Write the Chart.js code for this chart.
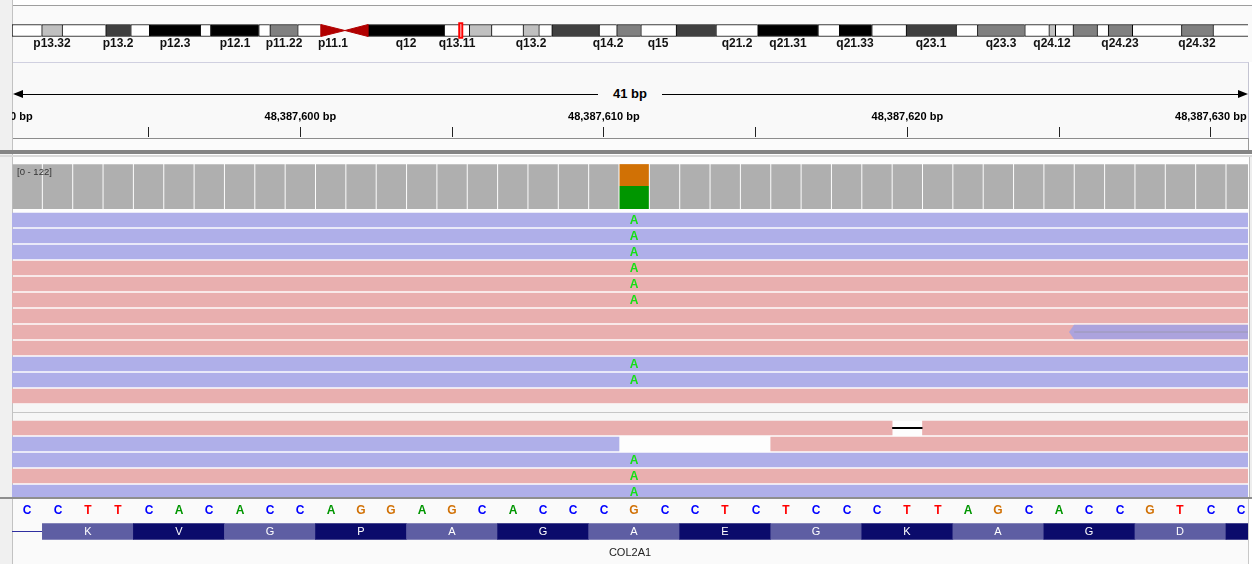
<!DOCTYPE html>
<html>
<head>
<meta charset="utf-8">
<title>IGV view chr12 COL2A1</title>
<script src="https://cdn.jsdelivr.net/npm/chart.js@4.4.1/dist/chart.umd.min.js"></script>
<style>
  html, body { margin:0; padding:0; }
  body { width:1252px; height:564px; position:relative; overflow:hidden; background:#ffffff;
         font-family:"Liberation Sans", Arial, Helvetica, sans-serif; }
  .a { position:absolute; }
  .wrap { position:absolute; overflow:hidden; }
  canvas { display:block; position:absolute; left:0; top:0; }
</style>
</head>
<body>
<!-- frame -->
<div class="a" style="left:0;top:0;width:13px;height:564px;background:#f0f0f0;border-right:1px solid #c2c2c2;box-sizing:border-box"></div>
<div class="a" style="left:13px;top:5px;width:1239px;height:57px;background:#fafafa;border-top:1px solid #9e9e9e;box-sizing:border-box"></div>
<div class="a" style="left:13px;top:62px;width:1236px;height:76px;background:#f9f9f9;border-top:1px solid #d0d0e0;border-right:1px solid #c4c4d2;box-sizing:border-box"></div>
<div class="a" style="left:13px;top:138px;width:1236px;height:12px;background:#fbfbfb;border-top:1px solid #8c8c8c;border-right:1px solid #9a9a9a;box-sizing:border-box"></div>
<div class="a" style="left:0;top:150px;width:1252px;height:4px;background:#858585"></div>
<div class="a" style="left:0;top:155px;width:1252px;height:2px;background:#dadada"></div>
<div class="a" style="left:13px;top:157px;width:1239px;height:340px;background:#fdfdfd"></div>
<div class="a" style="left:13px;top:404px;width:1235px;height:17px;background:#f6f6f6"></div>
<div class="a" style="left:13px;top:412px;width:1235px;height:1px;background:#c6c6c6"></div>
<div class="a" style="left:1249px;top:157px;width:3px;height:340px;background:#eeeeee;border-left:1px solid #bdbdbd;box-sizing:border-box"></div>
<div class="a" style="left:0;top:497px;width:1252px;height:2px;background:#8e8e8e"></div>
<div class="a" style="left:13px;top:499px;width:1236px;height:65px;background:#fafafa;border-right:1px solid #c8c8c8;box-sizing:border-box"></div>

<!-- ruler span -->
<div class="a" style="left:15px;top:94px;width:1230px;height:1px;background:#000"></div>
<div class="a" style="left:13px;top:90px;width:0;height:0;border-top:4px solid transparent;border-bottom:4px solid transparent;border-right:10px solid #000"></div>
<div class="a" style="left:1238px;top:90px;width:0;height:0;border-top:4px solid transparent;border-bottom:4px solid transparent;border-left:10px solid #000"></div>
<div id="spanLabel" class="a" style="left:598px;top:86px;width:64px;height:16px;line-height:16px;text-align:center;font-weight:bold;font-size:13px;background:#f9f9f9;color:#000"></div>

<!-- charts -->
<div class="wrap" style="left:12px;top:18px;width:1236px;height:34px"><canvas id="ideo" width="1236" height="34"></canvas></div>
<div class="wrap" style="left:12px;top:64px;width:1236px;height:86px"><canvas id="ruler" width="1436" height="86" style="left:-100px"></canvas></div>
<div class="wrap" style="left:12px;top:163px;width:1236px;height:46px"><canvas id="cov" width="1236" height="46"></canvas></div>
<div id="covLabel" class="a" style="left:17px;top:166px;font-size:9.5px;color:#333"></div>
<div class="wrap" style="left:12px;top:211px;width:1236px;height:286px"><canvas id="reads" width="1236" height="286"></canvas></div>
<div class="wrap" style="left:12px;top:499px;width:1236px;height:65px"><canvas id="gene" width="1236" height="65"></canvas></div>

<script>
// ===================== DATA =====================
const chromName = 'chr12';
const chromLengthMb = 133.275309;

const bandNames  = ['p13.33','p13.32','p13.31','p13.2','p13.1','p12.3','p12.2','p12.1','p11.23','p11.22','p11.21','p11.1','q11','q12','q13.11','q13.12','q13.13','q13.2','q13.3','q14.1','q14.2','q14.3','q15','q21.1','q21.2','q21.31','q21.32','q21.33','q22','q23.1','q23.2','q23.3','q24.11','q24.12','q24.13','q24.21','q24.22','q24.23','q24.31','q24.32','q24.33'];
const bandStartMb = [0,3.2,5.4,10.1,12.8,14.8,20.3,21.4,26.6,27.8,30.8,33.3,35.9,38.4,46.6,49.3,51.7,55.1,56.8,58.2,63.3,65.2,67.8,71.6,75.9,80.4,86.9,89.2,92.7,96.4,101.8,104.1,109.2,111.8,112.5,114.4,117.0,118.2,120.8,126.1,129.5];
const bandEndMb   = [3.2,5.4,10.1,12.8,14.8,20.3,21.4,26.6,27.8,30.8,33.3,35.9,38.4,46.6,49.3,51.7,55.1,56.8,58.2,63.3,65.2,67.8,71.6,75.9,80.4,86.9,89.2,92.7,96.4,101.8,104.1,109.2,111.8,112.5,114.4,117.0,118.2,120.8,126.1,129.5,133.275309];
const bandStains  = ['gneg','gpos25','gneg','gpos75','gneg','gpos100','gneg','gpos100','gneg','gpos50','gneg','acen','acen','gpos100','gneg','gpos25','gneg','gpos25','gneg','gpos75','gneg','gpos50','gneg','gpos75','gneg','gpos100','gneg','gpos100','gneg','gpos75','gneg','gpos50','gneg','gpos25','gneg','gpos50','gneg','gpos50','gneg','gpos50','gneg'];
const labeledBands = ['p13.32','p13.2','p12.3','p12.1','p11.22','p11.1','q12','q13.11','q13.2','q14.2','q15','q21.2','q21.31','q21.33','q23.1','q23.3','q24.12','q24.23','q24.32'];

const locusStart = 48387591;
const locusEnd   = 48387631;

const rulerTicks = [48387590,48387595,48387600,48387605,48387610,48387615,48387620,48387625,48387630];

const basePositions = [48387591,48387592,48387593,48387594,48387595,48387596,48387597,48387598,48387599,48387600,48387601,48387602,48387603,48387604,48387605,48387606,48387607,48387608,48387609,48387610,48387611,48387612,48387613,48387614,48387615,48387616,48387617,48387618,48387619,48387620,48387621,48387622,48387623,48387624,48387625,48387626,48387627,48387628,48387629,48387630,48387631];
const refBases = ['C','C','T','T','C','A','C','A','C','C','A','G','G','A','G','C','A','C','C','C','G','C','C','T','C','T','C','C','C','T','T','A','G','C','A','C','C','G','T','C','C'];

const coverageMax = 122;
const coverage = [119,119,119,119,119,119,119,119,119,119,119,119,119,119,119,119,119,119,119,119,119,119,119,119,119,119,119,119,119,119,119,119,119,119,119,119,119,119,119,119,119];
const variantPos = 48387611;
const altBase = 'A';
const altCount = 61;
const refCount = 58;

// reads (inclusive genomic base ranges)
const readRows    = [0,1,2,3,4,5,6,7,7,8,9,10,11,13,14,14,15,16,17];
const readStarts  = [48387549,48387562,48387571,48387498,48387503,48387517,48387524,48387506,48387626,48387537,48387579,48387583,48387541,48387470,48387461,48387616,48387556,48387528,48387585];
const readEnds    = [48387698,48387711,48387720,48387647,48387652,48387666,48387673,48387655,48387775,48387686,48387728,48387732,48387690,48387671,48387610,48387765,48387705,48387677,48387734];
const readStrands = ['-','-','-','+','+','+','+','+','-','+','-','-','+','+','-','+','-','+','-'];
const readSupplementary = [false,false,false,false,false,false,false,false,true,false,false,false,false,false,false,false,false,false,false];

const deletionRows   = [13];
const deletionStarts = [48387620];
const deletionEnds   = [48387620];

const mismatchRows = [0,1,2,3,4,5,9,10,15,16,17];

const geneName = 'COL2A1';
const intronStart = 48387480;
const intronEnd   = 48387591;
const codonStarts = [48387592,48387595,48387598,48387601,48387604,48387607,48387610,48387613,48387616,48387619,48387622,48387625,48387628,48387631];
const aminoAcids  = ['K','V','G','P','A','G','A','E','G','K','A','G','D',''];

// ===================== LAYOUT / STYLE =====================
const FONT = '"Liberation Sans", Arial, Helvetica, sans-serif';
Chart.defaults.font.family = FONT;
const TRACK_W = 1236;
const PX_PER_BP = 30.35;
const VIEW_START = 48387590.5;
const VIEW_END = VIEW_START + TRACK_W / PX_PER_BP;
const RULER_EXTRA = 100;

const STAIN_COLORS = {gneg:'#ffffff', gpos25:'#c0c0c0', gpos50:'#808080', gpos75:'#404040', gpos100:'#000000', acen:'#b10000'};
const BASE_COLORS = {A:'#009600', C:'#0000ff', G:'#d17105', T:'#ff0000'};
const FWD_COLOR = '#e9afaf', REV_COLOR = '#afafe9', SUPP_COLOR = '#aca3dd';
const AA_LIGHT = '#5e5ea3', AA_DARK = '#0b0b6b';

document.getElementById('spanLabel').textContent = Math.round(VIEW_END - VIEW_START) + ' bp';
document.getElementById('covLabel').textContent = '[0 - ' + coverageMax + ']';

function textLayer(items) {
  return {
    id: 'textLayer',
    afterDatasetsDraw(chart) {
      const {ctx, chartArea: ca, scales} = chart;
      ctx.save();
      ctx.beginPath(); ctx.rect(ca.left, ca.top, ca.right - ca.left, ca.bottom - ca.top); ctx.clip();
      ctx.textBaseline = 'middle';
      for (const it of items) {
        ctx.font = it.font; ctx.fillStyle = it.color; ctx.textAlign = it.align || 'center';
        ctx.fillText(it.text, Math.round(scales.x.getPixelForValue(it.x)), Math.round(scales.y.getPixelForValue(it.y)) + (it.dy || 0));
      }
      ctx.restore();
    }
  };
}

function baseOptions(xmin, xmax, ymin, ymax, reverse) {
  return {
    responsive: false, maintainAspectRatio: false, animation: false, devicePixelRatio: 1, events: [],
    layout: {padding: 0},
    plugins: {legend: {display: false}, tooltip: {enabled: false}},
    scales: {
      x: {type: 'linear', min: xmin, max: xmax, display: false, offset: false, grid: {display: false}},
      y: {type: 'linear', min: ymin, max: ymax, reverse: !!reverse, display: false, offset: false, grid: {display: false}}
    }
  };
}
const lineDS = (data, color, width, extra) => Object.assign({type: 'line', data, borderColor: color, borderWidth: width, pointRadius: 0, tension: 0, fill: false}, extra || {});

// ===================== IDEOGRAM =====================
(function () {
  const PPU = 13.8, yMin = -12.5 / PPU, yMax = yMin + 34 / PPU, H = 6 / PPU;
  const idx = bandNames.map((_, i) => i).filter(i => bandStains[i] !== 'acen');
  const datasets = [{
    type: 'bar', indexAxis: 'y', grouped: false, order: 3, barThickness: 12, borderSkipped: false,
    data: idx.map(i => ({x: [bandStartMb[i], bandEndMb[i]], y: 0})),
    backgroundColor: idx.map(i => STAIN_COLORS[bandStains[i]]),
    borderColor: '#000000', borderWidth: {top: 1, bottom: 1, left: 1, right: 0}
  }];
  bandNames.forEach((n, i) => {
    if (bandStains[i] !== 'acen') return;
    const pArm = n[0] === 'p';
    const wide = pArm ? bandStartMb[i] : bandEndMb[i];
    const tip = pArm ? bandEndMb[i] : bandStartMb[i];
    datasets.push(lineDS([{x: wide, y: -H}, {x: tip, y: 0}, {x: wide, y: H}, {x: wide, y: -H}], STAIN_COLORS.acen, 1,
      {fill: 'shape', backgroundColor: STAIN_COLORS.acen, order: 2}));
  });
  const locusMid = (locusStart + locusEnd) / 2 / 1e6;
  datasets.push(lineDS([{x: locusMid, y: -0.6}, {x: locusMid, y: 0.6}], '#ff0000', 5, {order: 1}));
  datasets.push(lineDS([{x: locusMid, y: -0.45}, {x: locusMid, y: 0.45}], '#ff8c8c', 1, {order: 0}));
  const labels = labeledBands.map(n => {
    const i = bandNames.indexOf(n);
    return {x: (bandStartMb[i] + bandEndMb[i]) / 2, y: 1, text: n, font: 'bold 12px ' + FONT, color: '#111'};
  });
  new Chart(document.getElementById('ideo'), {
    type: 'bar', data: {datasets},
    options: baseOptions(0, chromLengthMb, yMin, yMax, true),
    plugins: [textLayer(labels)]
  });
})();

// ===================== RULER =====================
(function () {
  const ext = RULER_EXTRA / PX_PER_BP;
  new Chart(document.getElementById('ruler'), {
    type: 'line', data: {datasets: []},
    options: {
      responsive: false, maintainAspectRatio: false, animation: false, devicePixelRatio: 1, events: [],
      layout: {padding: {top: 45, left: 0, right: 0, bottom: 0}},
      plugins: {legend: {display: false}, tooltip: {enabled: false}},
      scales: {
        x: {
          type: 'linear', position: 'top', min: VIEW_START - ext, max: VIEW_END + ext, offset: false,
          afterBuildTicks: s => { s.ticks = rulerTicks.map(v => ({value: v})); },
          afterFit: s => { s.height = 28; },
          ticks: {
            autoSkip: false, maxRotation: 0, minRotation: 0, padding: 3, color: '#000',
            font: {family: FONT, size: 11, weight: 'bold'},
            callback: v => (v % 10 === 0 ? Number(v).toLocaleString('en-US') + ' bp' : '')
          },
          grid: {drawOnChartArea: false, drawTicks: true, tickLength: 10, color: '#222', lineWidth: 1},
          border: {display: false}
        },
        y: {display: false}
      }
    }
  });
})();

// ===================== COVERAGE =====================
(function () {
  const common = {type: 'bar', grouped: false, barPercentage: 0.967, categoryPercentage: 1, borderWidth: 0};
  const datasets = [
    Object.assign({data: basePositions.map((p, i) => ({x: p, y: p === variantPos ? null : coverage[i]})), backgroundColor: '#afafaf'}, common),
    Object.assign({data: [{x: variantPos, y: [0, altCount]}], backgroundColor: BASE_COLORS[altBase]}, common),
    Object.assign({data: [{x: variantPos, y: [altCount, altCount + refCount]}], backgroundColor: BASE_COLORS[refBases[basePositions.indexOf(variantPos)]]}, common)
  ];
  new Chart(document.getElementById('cov'), {
    type: 'bar', data: {datasets},
    options: baseOptions(VIEW_START, VIEW_END, 0, coverageMax, false)
  });
})();

// ===================== READS =====================
(function () {
  const ROW_PX = 16, yMin = -9 / ROW_PX, yMax = yMin + 286 / ROW_PX;
  const HALF = 7 / ROW_PX, ARROW = 5 / PX_PER_BP;
  const bars = [], colors = [], extra = [];
  readRows.forEach((r, i) => {
    const color = readSupplementary[i] ? SUPP_COLOR : (readStrands[i] === '+' ? FWD_COLOR : REV_COLOR);
    const a = readStarts[i] - 0.5, b = readEnds[i] + 0.5;
    let segs = [[a, b]];
    deletionRows.forEach((dr, j) => {
      if (dr !== r) return;
      const ds = deletionStarts[j] - 0.5, de = deletionEnds[j] + 0.5;
      segs = segs.flatMap(([s, e]) => (ds > s && de < e) ? [[s, ds], [de, e]] : [[s, e]]);
    });
    segs.forEach(s => { bars.push({x: s, y: r}); colors.push(color); });
    if (readStrands[i] === '-' && a > VIEW_START) {
      extra.push(lineDS([{x: a, y: r - HALF}, {x: a - ARROW, y: r}, {x: a, y: r + HALF}, {x: a, y: r - HALF}], color, 0.5,
        {fill: 'shape', backgroundColor: color, order: 2}));
    }
    if (readStrands[i] === '+' && b < VIEW_END) {
      extra.push(lineDS([{x: b, y: r - HALF}, {x: b + ARROW, y: r}, {x: b, y: r + HALF}, {x: b, y: r - HALF}], color, 0.5,
        {fill: 'shape', backgroundColor: color, order: 2}));
    }
    if (readSupplementary[i]) {
      extra.push(lineDS([{x: a, y: r}, {x: b, y: r}], 'rgba(150,150,165,0.75)', 1, {order: 1}));
    }
  });
  deletionRows.forEach((r, j) => {
    extra.push(lineDS([{x: deletionStarts[j] - 0.5, y: r}, {x: deletionEnds[j] + 0.5, y: r}], '#000000', 2, {order: 1}));
  });
  const datasets = [{
    type: 'bar', indexAxis: 'y', grouped: false, order: 3, barThickness: 14, borderWidth: 0,
    data: bars, backgroundColor: colors
  }].concat(extra);
  const letters = mismatchRows.map(r => ({x: variantPos, y: r, dy: 1, text: altBase, font: 'bold 12px ' + FONT, color: '#14e014'}));
  new Chart(document.getElementById('reads'), {
    type: 'bar', data: {datasets},
    options: baseOptions(VIEW_START, VIEW_END, yMin, yMax, true),
    plugins: [textLayer(letters)]
  });
})();

// ===================== SEQUENCE + GENE =====================
(function () {
  const PPU = 21.5, yMin = -11 / PPU, yMax = yMin + 65 / PPU;
  const datasets = [
    {type: 'bar', indexAxis: 'y', grouped: false, order: 1, barThickness: 16, borderWidth: 0,
     data: codonStarts.map(s => ({x: [s - 0.5, s + 2.5], y: 1})),
     backgroundColor: codonStarts.map((_, i) => (i % 2 === 0 ? AA_LIGHT : AA_DARK))},
    lineDS([{x: intronStart - 0.5, y: 1}, {x: intronEnd + 0.5, y: 1}], '#2f2fa0', 1, {order: 2})
  ];
  const items = [];
  basePositions.forEach((p, i) => items.push({x: p, y: 0, dy: 1, text: refBases[i], font: 'bold 12px ' + FONT, color: BASE_COLORS[refBases[i]]}));
  codonStarts.forEach((s, i) => items.push({x: s + 1, y: 1, text: aminoAcids[i], font: '11px ' + FONT, color: '#ffffff'}));
  items.push({x: (VIEW_START + VIEW_END) / 2, y: 2, text: geneName, font: '11px ' + FONT, color: '#222222'});
  new Chart(document.getElementById('gene'), {
    type: 'bar', data: {datasets},
    options: baseOptions(VIEW_START, VIEW_END, yMin, yMax, true),
    plugins: [textLayer(items)]
  });
})();
</script>
</body>
</html>
